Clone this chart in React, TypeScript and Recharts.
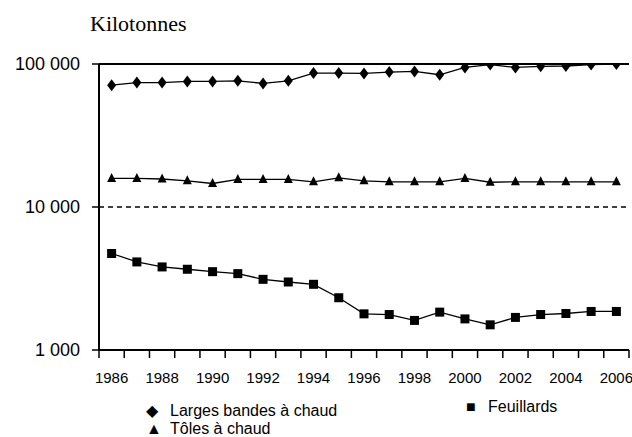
import React from 'react';
import { LineChart, Line, XAxis, YAxis, ReferenceLine } from 'recharts';

// Production par produit, kilotonnes (échelle log)
const years = [
  1986, 1987, 1988, 1989, 1990, 1991, 1992, 1993, 1994, 1995, 1996,
  1997, 1998, 1999, 2000, 2001, 2002, 2003, 2004, 2005, 2006,
];
const largesBandes = [
  71100, 74200, 74200, 75500, 75500, 76300, 73100, 76300, 86400, 86400, 85900,
  87800, 88800, 84100, 94700, 99000, 94700, 96300, 96800, 99000, 100000,
];
const toles = [
  15850, 15850, 15700, 15250, 14600, 15600, 15600, 15600, 15000, 16000, 15250,
  15000, 15000, 15000, 15850, 14900, 15000, 15000, 15000, 15000, 15000,
];
const feuillards = [
  4730, 4130, 3810, 3670, 3530, 3420, 3120, 2990, 2880, 2320, 1790,
  1770, 1610, 1840, 1650, 1500, 1690, 1770, 1800, 1860, 1860,
];
const yTicks = [1000, 10000, 100000];
const xLabels = [1986, 1988, 1990, 1992, 1994, 1996, 1998, 2000, 2002, 2004, 2006];

const data = years.map((year, i) => ({
  year,
  largesBandes: largesBandes[i],
  toles: toles[i],
  feuillards: feuillards[i],
}));
const boundaryTicks = [...years.map((y) => y - 0.5), years[years.length - 1] + 0.5];
const xDomain = [years[0] - 0.5, years[years.length - 1] + 0.5];

const W = 632;
const H = 437;
const M = { top: 64, right: 3, bottom: 57, left: 0 };
const Y_AXIS_W = 99;
const halfStep = (W - M.left - M.right - Y_AXIS_W) / years.length / 2;

const font = '"Liberation Sans", Arial, sans-serif';
const fmt = (v: number) => String(v).replace(/\B(?=(\d{3})+(?!\d))/g, ' ');

const Diamond = ({ cx, cy }: any) => {
  if (cx == null || cy == null) return null;
  return <path d={`M${cx},${cy - 6} L${cx + 4.5},${cy} L${cx},${cy + 6} L${cx - 4.5},${cy} Z`} fill="#000" />;
};
const Triangle = ({ cx, cy }: any) => {
  if (cx == null || cy == null) return null;
  return <path d={`M${cx},${cy - 5.5} L${cx + 4.5},${cy + 3.5} L${cx - 4.5},${cy + 3.5} Z`} fill="#000" />;
};
const Square = ({ cx, cy }: any) => {
  if (cx == null || cy == null) return null;
  return <rect x={cx - 4.5} y={cy - 4.5} width={9} height={9} fill="#000" />;
};

// tick marks sit between years; the labels sit under every other year
const YearTick = (props: any) => {
  const { x, y, payload } = props;
  const year = payload.value + 0.5;
  if (!xLabels.includes(year)) return <g />;
  return (
    <text x={x + halfStep} y={y + 25} textAnchor="middle" fill="#000" fontSize={15} fontFamily={font}>
      {year}
    </text>
  );
};

const legendText: React.CSSProperties = {
  position: 'absolute',
  fontFamily: font,
  fontSize: 16,
  color: '#000',
  whiteSpace: 'nowrap',
  lineHeight: '18px',
};

export default function App() {
  return (
    <div style={{ position: 'absolute', left: 0, top: 0, width: W, height: H, background: '#fff' }}>
      <div
        style={{
          position: 'absolute',
          left: 90,
          top: 12,
          fontFamily: '"Liberation Serif", "Times New Roman", serif',
          fontSize: 22,
          lineHeight: '24px',
        }}
      >
        Kilotonnes
      </div>
      <LineChart width={W} height={H} data={data} margin={M}>
        <XAxis
          dataKey="year"
          type="number"
          domain={xDomain}
          ticks={boundaryTicks}
          interval={0}
          tick={(p: any) => <YearTick key={`x-${p.index}`} {...p} />}
          tickSize={8}
          tickMargin={0}
          height={30}
          axisLine={{ stroke: '#000', strokeWidth: 2 }}
          tickLine={{ stroke: '#000', strokeWidth: 1.5 }}
        />
        <YAxis
          scale="log"
          domain={[1000, 100000]}
          ticks={yTicks}
          allowDataOverflow
          tickFormatter={fmt}
          width={Y_AXIS_W}
          tickSize={7}
          tickMargin={12}
          axisLine={{ stroke: '#000', strokeWidth: 2 }}
          tickLine={{ stroke: '#000', strokeWidth: 1.5 }}
          tick={{ fill: '#000', fontSize: 18, fontFamily: font }}
        />
        <ReferenceLine y={100000} stroke="#000" strokeWidth={2} />
        <ReferenceLine y={10000} stroke="#000" strokeWidth={1.5} strokeDasharray="5 4" />
        <Line
          dataKey="largesBandes"
          stroke="#000"
          strokeWidth={1.3}
          isAnimationActive={false}
          dot={(p: any) => <Diamond key={`d-${p.index}`} {...p} />}
        />
        <Line
          dataKey="toles"
          stroke="#000"
          strokeWidth={1.3}
          isAnimationActive={false}
          dot={(p: any) => <Triangle key={`t-${p.index}`} {...p} />}
        />
        <Line
          dataKey="feuillards"
          stroke="#000"
          strokeWidth={1.3}
          isAnimationActive={false}
          dot={(p: any) => <Square key={`s-${p.index}`} {...p} />}
        />
      </LineChart>
      <div style={{ ...legendText, left: 146, top: 402 }}>
        <span style={{ display: 'inline-block', width: 24 }}>◆</span>Larges bandes à chaud
      </div>
      <div style={{ ...legendText, left: 146, top: 420 }}>
        <span style={{ display: 'inline-block', width: 24 }}>▲</span>Tôles à chaud
      </div>
      <div style={{ ...legendText, left: 466, top: 398 }}>
        <span style={{ display: 'inline-block', width: 22 }}>■</span>Feuillards
      </div>
    </div>
  );
}
